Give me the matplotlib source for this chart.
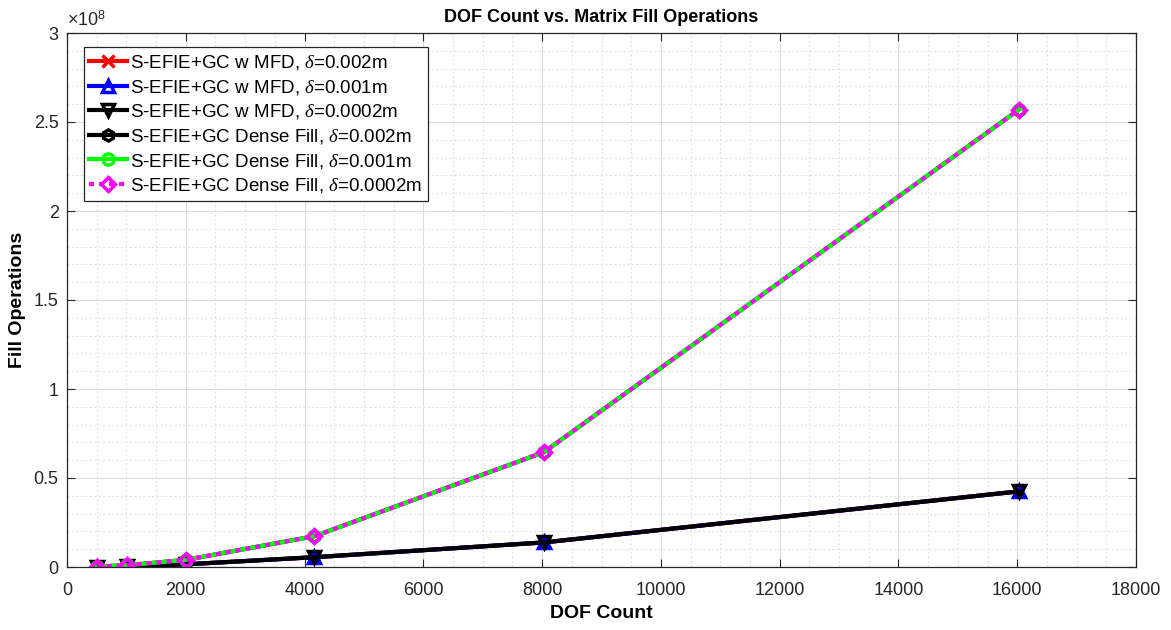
import matplotlib
matplotlib.use("Agg")
import matplotlib.pyplot as plt
from matplotlib.ticker import MultipleLocator, FuncFormatter

plt.rcParams['font.family'] = ['Liberation Sans', 'DejaVu Sans']
plt.rcParams['mathtext.fontset'] = 'custom'
plt.rcParams['mathtext.rm'] = 'Liberation Sans'
plt.rcParams['mathtext.it'] = 'Liberation Serif:italic'
plt.rcParams['mathtext.bf'] = 'Liberation Sans:bold'

# DOF counts
dof = [500, 1010, 2000, 4165, 8030, 16030]

# fill operations
mfd_002 = [0.1e6, 0.4e6, 1.5e6, 5.5e6, 13.8e6, 42.5e6]
mfd_001 = [0.1e6, 0.4e6, 1.5e6, 5.5e6, 13.8e6, 42.5e6]
mfd_0002 = [0.1e6, 0.4e6, 1.5e6, 5.5e6, 13.8e6, 42.5e6]
dense_002 = [0.25e6, 1.0e6, 4.0e6, 17.3e6, 64.5e6, 257.0e6]
dense_001 = [0.25e6, 1.0e6, 4.0e6, 17.3e6, 64.5e6, 257.0e6]
dense_0002 = [0.25e6, 1.0e6, 4.0e6, 17.3e6, 64.5e6, 257.0e6]

labels = [r"S-EFIE+GC w MFD, $\it{\delta}$=0.002m",
          r"S-EFIE+GC w MFD, $\it{\delta}$=0.001m",
          r"S-EFIE+GC w MFD, $\it{\delta}$=0.0002m",
          r"S-EFIE+GC Dense Fill, $\it{\delta}$=0.002m",
          r"S-EFIE+GC Dense Fill, $\it{\delta}$=0.001m",
          r"S-EFIE+GC Dense Fill, $\it{\delta}$=0.0002m"]

fig = plt.figure(figsize=(11.71, 6.3), dpi=100)
ax = fig.add_axes([67/1171, 1 - 567/630, (1136-67)/1171, (567-33)/630])

lw = 3
ms = 8
ax.plot(dof, mfd_002, color='red', marker='x', lw=lw, ms=ms, mew=2.5, label=labels[0])
ax.plot(dof, mfd_001, color='blue', marker='^', lw=lw, ms=ms, mew=2.5, mfc='none', label=labels[1])
ax.plot(dof, mfd_0002, color='black', marker='v', lw=lw, ms=ms, mew=2.5, mfc='none', label=labels[2])
ax.plot(dof, dense_002, color='black', marker='h', lw=lw, ms=ms, mew=2.5, mfc='none', label=labels[3])
ax.plot(dof, dense_001, color='#00ff00', marker='o', lw=lw, ms=ms, mew=2.5, mfc='none', label=labels[4])
ax.plot(dof, dense_0002, color='magenta', marker='D', lw=lw, ms=ms - 1, mew=2.5, mfc='none',
        dashes=(1.2, 1.2), label=labels[5])

ax.set_xlim(0, 18000)
ax.set_ylim(0, 3e8)
ax.xaxis.set_major_locator(MultipleLocator(2000))
ax.xaxis.set_minor_locator(MultipleLocator(500))
ax.yaxis.set_major_locator(MultipleLocator(0.5e8))
ax.yaxis.set_minor_locator(MultipleLocator(0.1e8))
ax.yaxis.set_major_formatter(FuncFormatter(lambda v, p: "%g" % (v / 1e8)))
ax.text(0, 1.005, r"$\times10^{8}$", transform=ax.transAxes, fontsize=13,
        color='#262626', va='bottom', ha='left')

ax.grid(which='major', color='#dcdcdc', lw=0.8)
ax.grid(which='minor', color='#e2e2e2', lw=0.8, ls=(0, (2, 2)))
ax.set_axisbelow(True)

for s in ax.spines.values():
    s.set_color('#262626')
    s.set_linewidth(0.9)
ax.tick_params(which='major', direction='in', length=6, top=True, right=True,
               colors='#262626', labelsize=13)
ax.tick_params(axis='x', which='major', pad=11)
ax.tick_params(axis='y', which='major', pad=6)
ax.tick_params(which='minor', length=0)

ax.set_title("DOF Count vs. Matrix Fill Operations", fontsize=13, fontweight='bold', pad=8)
ax.set_xlabel("DOF Count", fontsize=14, fontweight='bold')
ax.set_ylabel("Fill Operations", fontsize=14, fontweight='bold')
ax.xaxis.set_label_coords(0.5, -0.067)
ax.yaxis.set_label_coords(-0.046, 0.5)
ax.yaxis.label.set_va('center')
ax.xaxis.label.set_va('center')
ax.xaxis.set_label_coords(0.5, (567 - 614) / 534)

leg = ax.legend(loc='upper left', bbox_to_anchor=(0.012, 0.98), fontsize=13.5,
                fancybox=False, framealpha=1, edgecolor='#262626',
                handlelength=2.0, handletextpad=0.2, borderpad=0.3,
                labelspacing=0.3, borderaxespad=0.2)
leg.get_frame().set_linewidth(0.9)

fig.savefig("out.png", dpi=100)
